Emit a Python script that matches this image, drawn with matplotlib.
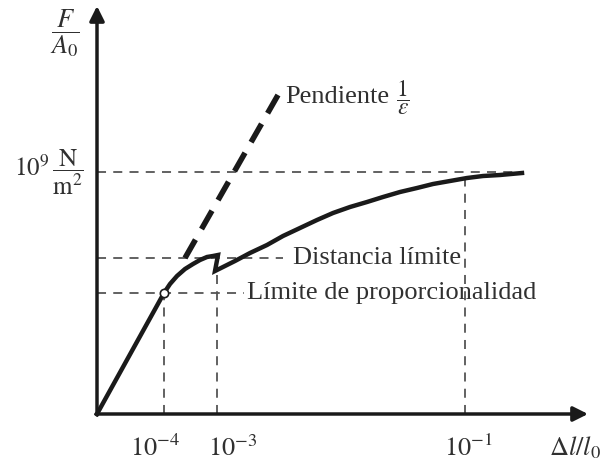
import matplotlib
matplotlib.use("Agg")
import matplotlib.pyplot as plt

plt.rcParams['font.family'] = ['Liberation Serif', 'DejaVu Serif']
plt.rcParams['mathtext.fontset'] = 'stix'

# schematic stress-strain curve (arbitrary units, origin at the axes corner)
curve_x = [0, 67, 73, 80, 88, 96, 103, 110, 116, 121, 118, 128, 138, 153, 170, 186, 203,
           220, 236, 253, 270, 286, 303, 320, 336, 353, 370, 386, 403, 425]
curve_y = [0, 121, 130, 138, 145, 150, 154, 157, 158, 159, 143, 148, 153, 161, 169, 178, 186,
           194, 201, 207, 212, 217, 222, 226, 230, 233, 236, 238, 239, 241]

# initial slope line (dashed)
slope_x = [88, 181]
slope_y = [156, 319]

# characteristic levels
y_prop = 121      # limite de proporcionalidad
y_lim = 156       # distancia limite
y_top = 242       # 10^9 N/m^2
x_end = 425

# strain ticks
tick_x = [67, 120, 368]
tick_top = [121, 143, 236]
tick_labels = [r'$10^{-4}$', r'$10^{-3}$', r'$10^{-1}$']
tick_dx = [-9, 16, 3]

ink = '#1a1a1a'
grey = '#555555'
txt = '#303030'

fig = plt.figure(figsize=(6.08, 4.61), dpi=100)
ax = fig.add_axes([0, 0, 1, 1])
ax.set_xlim(-97, 511)
ax.set_ylim(-47, 414)
ax.axis('off')

# axes with arrows
ax.annotate('', xy=(0, 408), xytext=(0, -1),
            arrowprops=dict(arrowstyle='-|>', lw=2.5, color=ink, mutation_scale=22, shrinkA=0, shrinkB=0))
ax.annotate('', xy=(491, 0), xytext=(-1, 0),
            arrowprops=dict(arrowstyle='-|>', lw=2.5, color=ink, mutation_scale=22, shrinkA=0, shrinkB=0))

# thin dashed guides
dash = dict(color=grey, lw=1.3, dashes=(5, 4))
ax.plot([0, x_end], [y_top, y_top], **dash)
ax.plot([0, 186], [y_lim, y_lim], **dash)
ax.plot([0, 147], [y_prop, y_prop], **dash)
for tx, tt in zip(tick_x, tick_top):
    ax.plot([tx, tx], [0, tt], **dash)

# slope line and curve
ax.plot(slope_x, slope_y, color=ink, lw=4, dashes=(3.8, 2.2), solid_capstyle='butt')
ax.plot(curve_x, curve_y, color=ink, lw=3.2, solid_joinstyle='miter')
ax.plot([curve_x[1]], [curve_y[1]], 'o', ms=6, mfc='white', mec=ink, mew=1.2)

# texts
fs = 19
ax.text(188, 311, 'Pendiente', fontsize=fs, color=txt, va='baseline', ha='left')
ax.text(299, 316, r'$\dfrac{1}{\varepsilon}$', fontsize=fs - 2, color=txt, va='center', ha='left')
ax.text(196, y_lim, 'Distancia límite', fontsize=fs, color=txt, va='center', ha='left')
ax.text(150, y_prop, 'Límite de proporcionalidad', fontsize=fs, color=txt, va='center', ha='left')

ax.text(-32, 381, r'$\dfrac{F}{A_0}$', fontsize=fs, color=txt, va='center', ha='center')
ax.text(-83, y_top, r'$10^9\,\dfrac{\mathrm{N}}{\mathrm{m}^2}$', fontsize=fs - 1, color=txt,
        va='center', ha='left')

for tx, lab, dx in zip(tick_x, tick_labels, tick_dx):
    ax.text(tx + dx, -34, lab, fontsize=fs, color=txt, va='center', ha='center')
ax.text(452, -34, r'$\Delta l/l_0$', fontsize=fs, color=txt, va='center', ha='left')

fig.savefig('out.png', dpi=100)
